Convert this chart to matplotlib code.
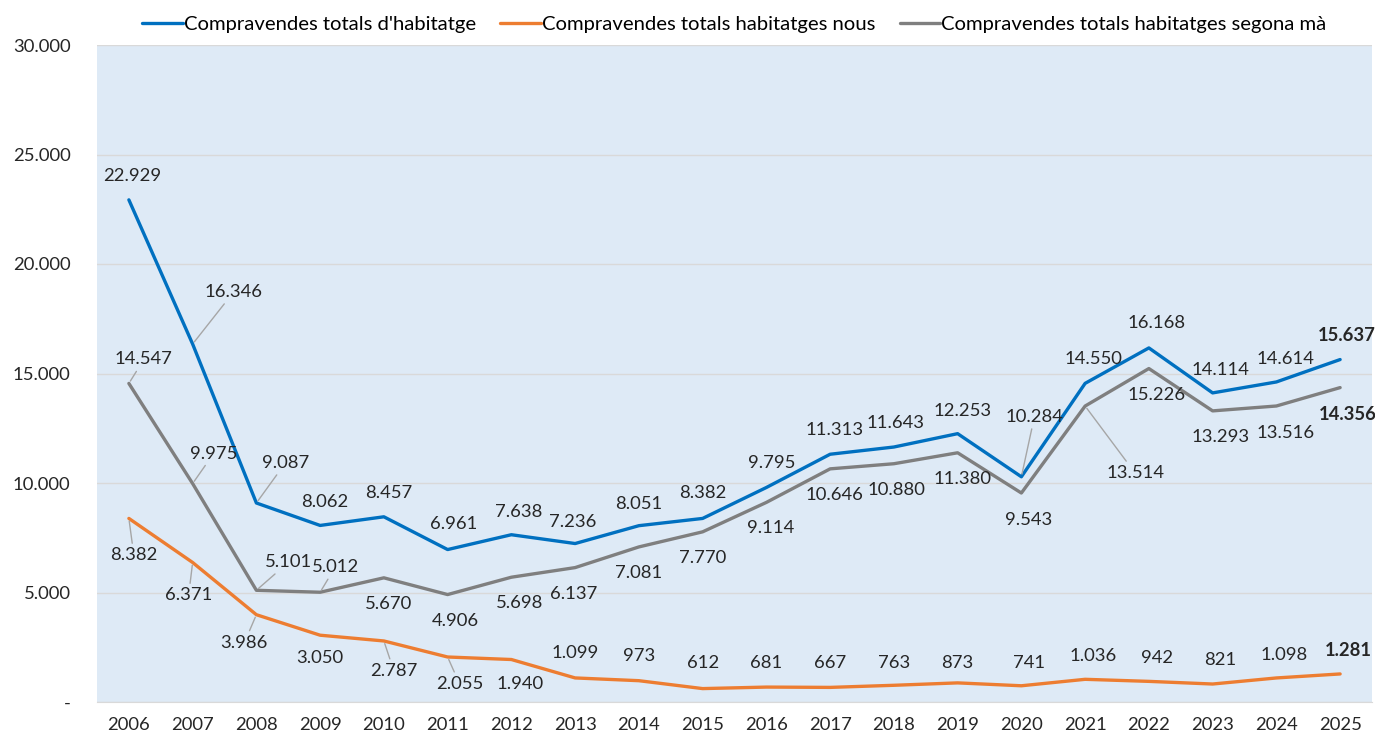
import matplotlib
matplotlib.use("Agg")
import matplotlib.pyplot as plt

plt.rcParams['font.family'] = ['Lato', 'DejaVu Sans']

years = [str(y) for y in range(2006, 2026)]
total = [22929, 16346, 9087, 8062, 8457, 6961, 7638, 7236, 8051, 8382,
         9795, 11313, 11643, 12253, 10284, 14550, 16168, 14114, 14614, 15637]
nous = [8382, 6371, 3986, 3050, 2787, 2055, 1940, 1099, 973, 612,
        681, 667, 763, 873, 741, 1036, 942, 821, 1098, 1281]
segona = [14547, 9975, 5101, 5012, 5670, 4906, 5698, 6137, 7081, 7770,
          9114, 10646, 10880, 11380, 9543, 13514, 15226, 13293, 13516, 14356]

labels = ["Compravendes totals d'habitatge",
          "Compravendes totals habitatges nous",
          "Compravendes totals habitatges segona mà"]
colors = ['#0070C0', '#ED7D31', '#7F7F7F']

# label offsets in pixels (dx, dy), dy positive = up
off_total = [(3, 24), (41, 52), (29, 40), (5, 23), (5, 24), (6, 26), (7, 23),
             (-2, 22), (0, 22), (0, 25), (5, 24), (4, 24), (2, 24), (5, 23),
             (13, 60), (8, 24), (8, 25), (8, 23), (9, 23), (7, 24)]
off_nous = [(5, -37), (-4, -33), (-12, -28), (0, -23), (10, -30), (12, -27),
            (9, -24), (0, 25), (0, 25), (0, 26), (0, 24), (0, 24), (0, 22),
            (0, 20), (8, 23), (8, 23), (8, 23), (8, 24), (8, 23), (8, 23)]
off_seg = [(15, 24), (21, 30), (32, 28), (15, 25), (5, -26), (8, -26), (8, -26),
           (-1, -26), (0, -26), (0, -26), (4, -26), (4, -26), (3, -26), (5, -26),
           (7, -27), (50, -67), (8, -26), (8, -26), (9, -27), (8, -27)]
lead_total = {1, 2, 14}
lead_nous = {0, 1, 2, 4, 5}
lead_seg = {0, 1, 2, 3, 15}


def fmt(v):
    return f"{v:,}".replace(',', '.')


fig = plt.figure(figsize=(13.75, 7.34), dpi=100)
ax = fig.add_axes([97 / 1375, 1 - 702 / 734, 1275 / 1375, 657 / 734])
ax.set_facecolor('#DEEAF6')

x = list(range(len(years)))
for series, col, lab in zip([total, nous, segona], colors, labels):
    ax.plot(x, series, color=col, lw=2.4, label=lab, solid_capstyle='round', zorder=3)

for series, offs, leads in [(total, off_total, lead_total),
                            (nous, off_nous, lead_nous),
                            (segona, off_seg, lead_seg)]:
    for i, v in enumerate(series):
        bold = i == len(series) - 1
        kw = dict(textcoords='offset pixels', ha='center', va='center',
                  fontsize=13.3, color='#262626',
                  fontweight='bold' if bold else 'normal', zorder=4)
        if i in leads:
            kw['arrowprops'] = dict(arrowstyle='-', color='#A6A6A6', lw=1,
                                    shrinkA=1, shrinkB=2)
        ax.annotate(fmt(v), (i, v), xytext=offs[i], **kw)

ax.set_xlim(-0.5, len(years) - 0.5)
ax.set_ylim(0, 30000)
ax.set_xticks(x)
ax.set_xticklabels(years)
yt = list(range(0, 30001, 5000))
ax.set_yticks(yt)
ax.set_yticklabels(['-' if t == 0 else fmt(t) for t in yt])
ax.tick_params(axis='both', length=0, labelsize=13.3, colors='#262626')
ax.tick_params(axis='x', pad=11)
ax.tick_params(axis='y', pad=19)
ax.grid(axis='y', color='#D9D9D9', lw=1)
ax.set_axisbelow(True)
for s in ['left', 'right', 'top']:
    ax.spines[s].set_visible(False)
ax.spines['bottom'].set_color('#D9D9D9')

ax.legend(loc='lower center', bbox_to_anchor=(0.5, 1.0), ncol=3, frameon=False,
          fontsize=14.6, handlelength=2.0, handletextpad=0.05, columnspacing=1.2,
          borderaxespad=0.2)

fig.savefig('out.png', dpi=100)
